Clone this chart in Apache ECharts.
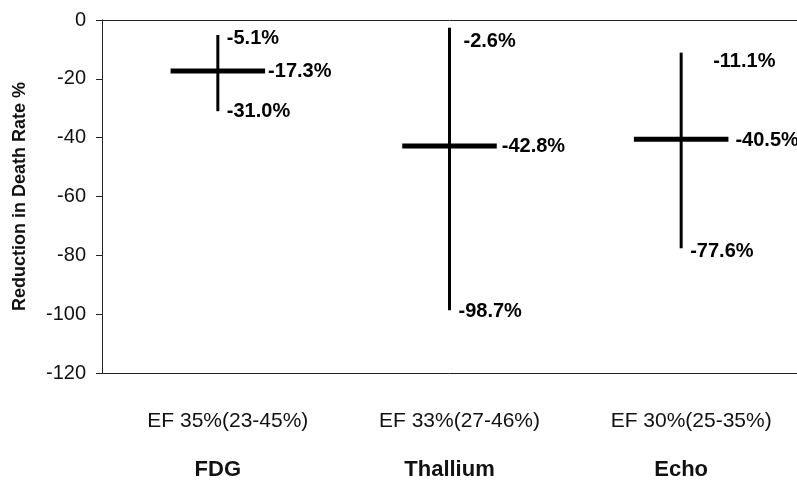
<!DOCTYPE html>
<html><head><meta charset="utf-8">
<script src="https://cdn.jsdelivr.net/npm/echarts@6/dist/echarts.min.js"></script>
<style>html,body{margin:0;padding:0;background:#fff}#c{width:797px;height:482px}</style>
</head><body><div id="c"></div>
<script>
// ---- data ----
const categories = ['FDG', 'Thallium', 'Echo'];
const efLabels = ['EF 35%(23-45%)', 'EF 33%(27-46%)', 'EF 30%(25-35%)'];
const means = [-17.3, -42.8, -40.5];
const highs = [-5.1, -2.6, -11.1];
const lows = [-31.0, -98.7, -77.6];

// ---- label style offsets (px) ----
const highLabelOffset = [[9, 3], [14, 14], [32, 9]];
const lowLabelOffset = [[9, 0], [9, 1], [9, 3]];
const meanLabelGap = [3, 5, 7];

const chart = echarts.init(document.getElementById('c'), null, {renderer: 'canvas'});
const FAMILY = '"Liberation Sans", Arial, sans-serif';
const FONT_BOLD = 'bold 20px ' + FAMILY;
const fmt = v => v.toFixed(1) + '%';

const seriesData = categories.map((c, i) => [i, means[i], highs[i], lows[i]]);

chart.setOption({
  animation: false,
  backgroundColor: '#fff',
  grid: {left: 102, right: -4, top: 20, bottom: 109, containLabel: false},
  xAxis: [{
    type: 'category',
    data: categories,
    position: 'bottom',
    axisLine: {show: true, onZero: false, lineStyle: {color: '#222', width: 1}},
    axisTick: {show: false},
    axisLabel: {
      margin: 24,
      interval: 0,
      formatter: (v, i) => '{ef|' + efLabels[i] + '}\n{nm|' + v + '}',
      rich: {
        ef: {fontFamily: FAMILY, fontSize: 21, lineHeight: 48, color: '#111', padding: [0, 0, 0, 20]},
        nm: {fontFamily: FAMILY, fontSize: 22, fontWeight: 'bold', lineHeight: 50, color: '#111'}
      }
    },
    splitLine: {show: false}
  }, {
    type: 'category',
    data: categories,
    position: 'top',
    axisLine: {show: true, onZero: false, lineStyle: {color: '#222', width: 1}},
    axisTick: {show: false},
    axisLabel: {show: false},
    splitLine: {show: false}
  }],
  yAxis: {
    type: 'value',
    min: -120, max: 0, interval: 20,
    name: 'Reduction in Death Rate %',
    nameLocation: 'middle',
    nameGap: 73,
    nameTextStyle: {fontFamily: FAMILY, fontSize: 18, fontWeight: 'bold', color: '#111'},
    axisLine: {show: true, onZero: false, lineStyle: {color: '#222', width: 1}},
    axisTick: {show: true, inside: false, length: 6, lineStyle: {color: '#222'}},
    axisLabel: {margin: 16, fontFamily: FAMILY, fontSize: 20, color: '#111'},
    splitLine: {show: false}
  },
  series: [{
    type: 'custom',
    data: seriesData,
    clip: false,
    renderItem: (params, api) => {
      const i = api.value(0);
      const m = api.value(1), h = api.value(2), l = api.value(3);
      const c = api.coord([i, m]);
      const hi = api.coord([i, h]);
      const lo = api.coord([i, l]);
      const band = api.size([1, 0])[0];
      const hw = band * 0.204;
      const ho = highLabelOffset[i], lo2 = lowLabelOffset[i];
      const txt = (x, y, t) => ({
        type: 'text', x: x, y: y,
        style: {text: t, font: FONT_BOLD, fill: '#000', align: 'left', verticalAlign: 'middle', textAlign: 'left', textVerticalAlign: 'middle'}
      });
      return {
        type: 'group',
        children: [
          {type: 'line', shape: {x1: hi[0], y1: hi[1], x2: lo[0], y2: lo[1]}, style: {stroke: '#000', lineWidth: 3}},
          {type: 'line', shape: {x1: c[0] - hw, y1: c[1], x2: c[0] + hw, y2: c[1]}, style: {stroke: '#000', lineWidth: 5}},
          txt(hi[0] + ho[0], hi[1] + ho[1], fmt(h)),
          txt(c[0] + hw + meanLabelGap[i], c[1] + 1, fmt(m)),
          txt(lo[0] + lo2[0], lo[1] + lo2[1], fmt(l))
        ]
      };
    }
  }]
});
</script>
</body></html>
